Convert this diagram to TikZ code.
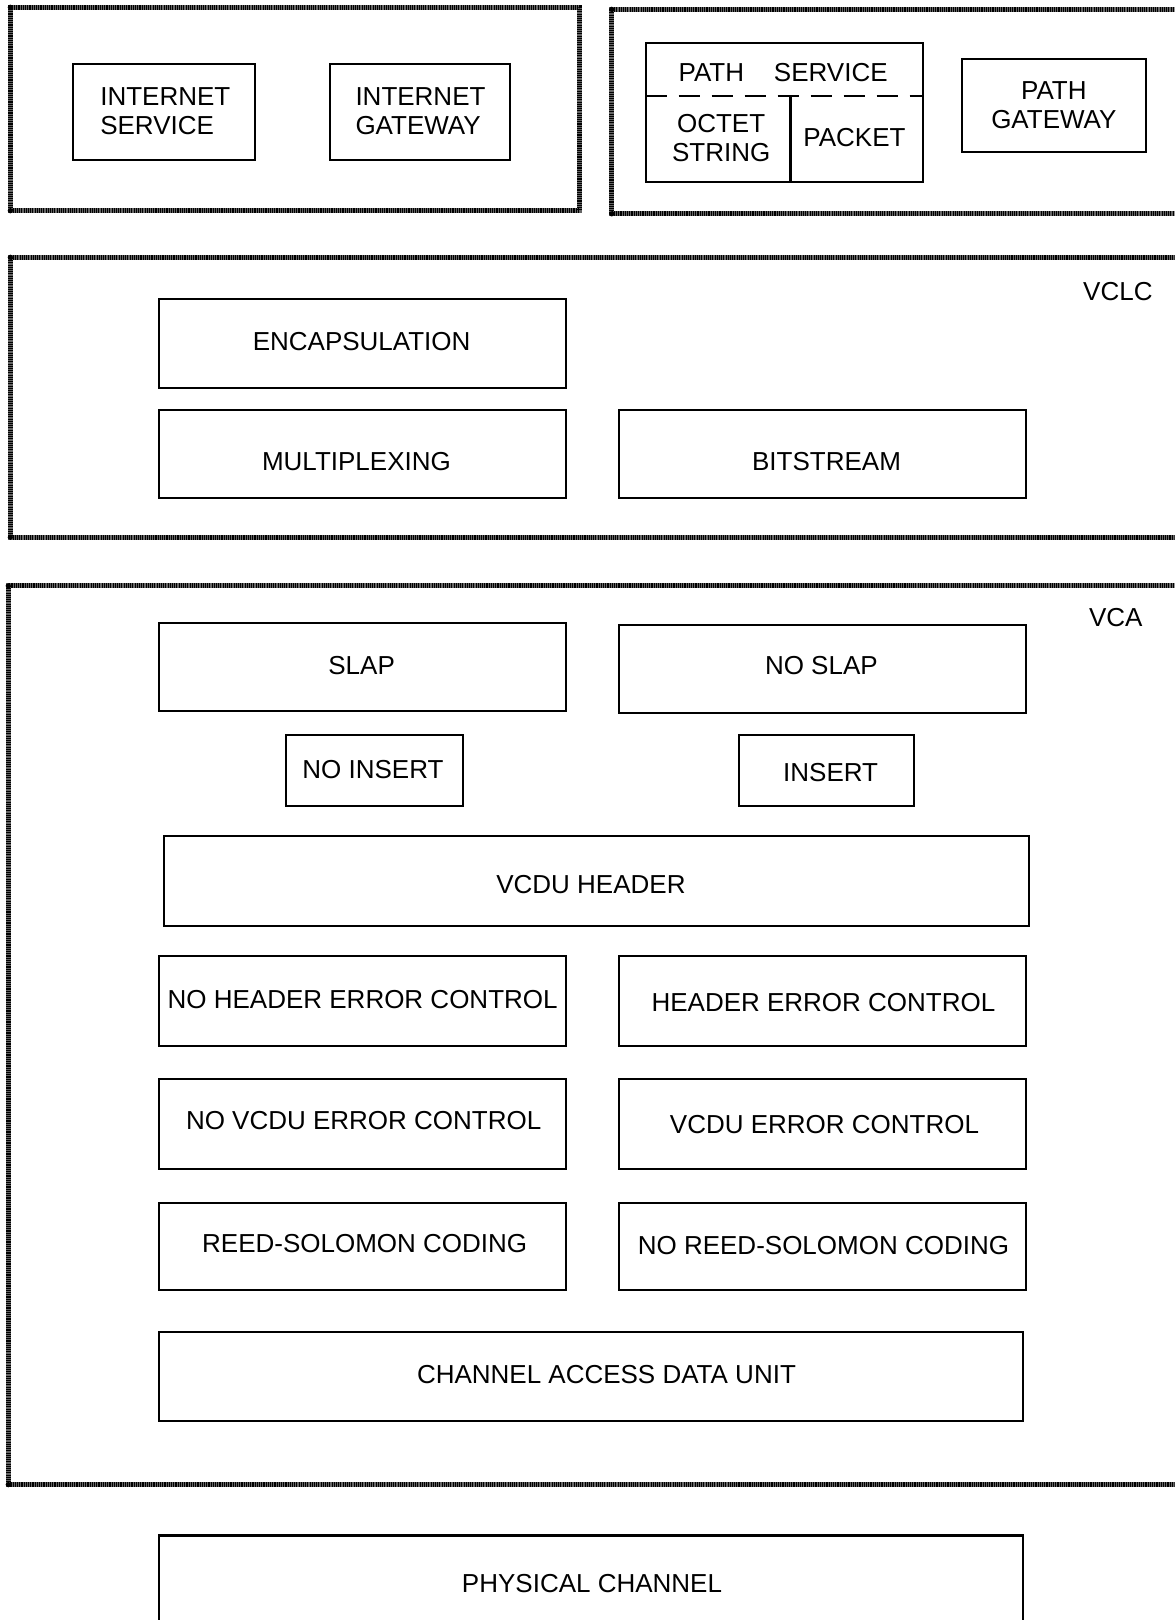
\documentclass[tikz,border=0pt]{standalone}
\usepackage{fontspec}
\setmainfont{Liberation Sans}
\begin{document}
\begin{tikzpicture}[x=0.5167pt,y=-0.5167pt,
  every node/.style={font=\fontsize{13}{14.6}\selectfont},
  box/.style={draw=black, line width=1pt, rectangle, inner sep=0pt, outer sep=0pt, align=center},
  frame/.style={draw=black!60, line width=2.6pt, rectangle, inner sep=0pt, outer sep=0pt,
    postaction={draw=black, line width=2.6pt, dash pattern=on 0.55pt off 0.55pt}},
  corner/.style={fill=black, circle, inner sep=0pt, minimum size=2.6pt},
  lbl/.style={inner sep=0pt}]
% page area and clipping of the frames that run off the right edge
\clip (0,0) rectangle (1137,1568);
\fill[white] (0,0) rectangle (1137,1568);

% box helper: name, x1, y1, x2, y2, style, text
\newcommand\bx[7]{%
  \node[#6, minimum width={(#4-#2)*0.5167pt}, minimum height={(#5-#3)*0.5167pt}]
    (#1) at ({(#2+#4)/2},{(#3+#5)/2}) {#7};}
% box with its label placed separately: name, x1, y1, x2, y2, label x, label y, text
\newcommand\bxt[8]{%
  \bx{#1}{#2}{#3}{#4}{#5}{box}{}%
  \node[lbl] (#1-t) at (#6,#7) {#8};}

% layer frames
\bx{upperleft}{10}{7}{561}{204}{frame}{}
\bx{upperright}{592}{9}{1160}{207}{frame}{}
\bx{vclc}{10}{249}{1160}{520}{frame}{}
\bx{vca}{8}{567}{1160}{1437}{frame}{}
\foreach \f in {upperleft,upperright,vclc,vca}{
  \node[corner] at (\f.north west) {};
  \node[corner] at (\f.south west) {};
}

% upper layer services
\bx{inetsvc}{71}{62}{247}{155}{box}{}
\node[lbl, align=left] (inetsvctxt) at (160,108) {INTERNET\\SERVICE};
\bx{inetgw}{319}{62}{494}{155}{box}{}
\node[lbl, align=left] (inetgwtxt) at (407,108) {INTERNET\\GATEWAY};

\bx{pathsvc}{625}{42}{893}{176}{box}{}
\coordinate (dl) at (625,93);
\coordinate (dr) at (893,93);
\coordinate (vt) at (765,93);
\coordinate (vb) at (765,176);
\draw[line width=1.3pt, dash pattern=on 10.5pt off 6pt] (dl) -- (dr);
\draw[line width=1.3pt] (vt) -- (vb);
\node[lbl] (pathsvctxt) at (758,70) {PATH\hspace{1.15em}SERVICE};
\node[lbl, align=center] (octet) at (698,134) {OCTET\\STRING};
\node[lbl] (packet) at (827,133) {PACKET};
\bx{pathgw}{931}{57}{1109}{147}{box}{PATH\\GATEWAY}

% VCLC layer
\node[lbl] (vclctxt) at (1082,282) {VCLC};
\bxt{encap}{154}{289}{548}{376}{350}{331}{ENCAPSULATION}
\bxt{mux}{154}{397}{548}{482}{345}{447}{MULTIPLEXING}
\bxt{bits}{599}{397}{993}{482}{800}{447}{BITSTREAM}

% VCA layer
\node[lbl] (vcatxt) at (1080,598) {VCA};
\bxt{slap}{154}{603}{548}{688}{350}{644}{SLAP}
\bxt{noslap}{599}{605}{993}{690}{795}{644}{NO SLAP}
\bxt{noins}{277}{711}{448}{780}{361}{745}{NO INSERT}
\bxt{ins}{715}{711}{885}{780}{804}{748}{INSERT}
\bxt{vcduhdr}{159}{809}{996}{896}{572}{856}{VCDU HEADER}
\bxt{nohec}{154}{925}{548}{1012}{351}{967}{NO HEADER ERROR CONTROL}
\bxt{hec}{599}{925}{993}{1012}{797}{970}{HEADER ERROR CONTROL}
\bxt{novec}{154}{1044}{548}{1131}{352}{1085}{NO VCDU ERROR CONTROL}
\bxt{vec}{599}{1044}{993}{1131}{798}{1088}{VCDU ERROR CONTROL}
\bxt{rs}{154}{1164}{548}{1249}{353}{1204}{REED-SOLOMON CODING}
\bxt{nors}{599}{1164}{993}{1249}{797}{1206}{NO REED-SOLOMON CODING}
\bxt{cadu}{154}{1289}{990}{1375}{587}{1330}{CHANNEL ACCESS DATA UNIT}

% physical layer
\bx{phys}{154}{1486}{990}{1582}{box, line width=1.3pt}{}
\node[lbl] (phystxt) at (573,1533) {PHYSICAL CHANNEL};
\end{tikzpicture}
\end{document}
